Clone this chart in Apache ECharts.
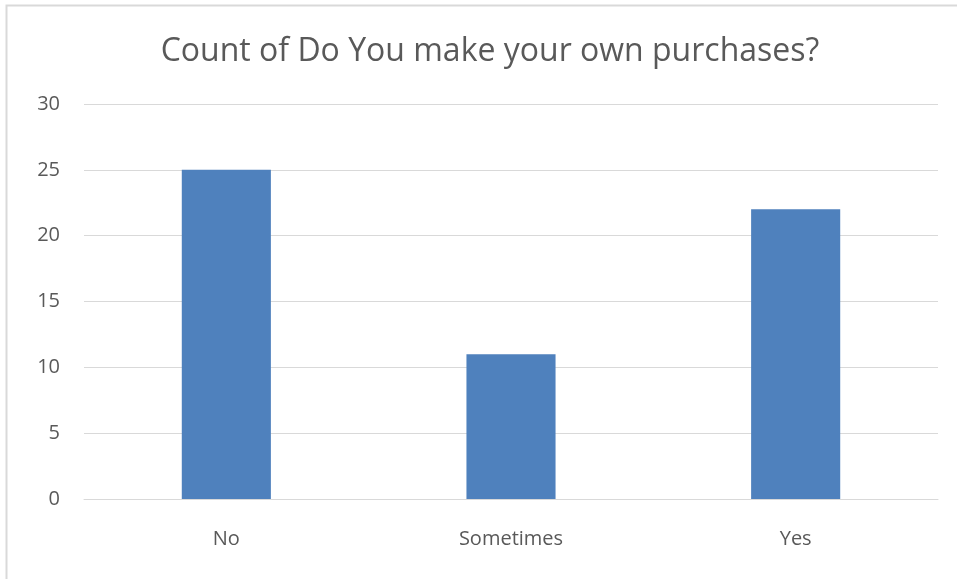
<!DOCTYPE html>
<html>
<head>
<meta charset="utf-8">
<script src="https://cdn.jsdelivr.net/npm/echarts@6/dist/echarts.min.js"></script>
<style>
  html, body { margin: 0; padding: 0; background: #ffffff; }
  #chart { width: 957px; height: 579px; }
</style>
</head>
<body>
<div id="chart"></div>
<script>
// Responses to "Do You make your own purchases?"
const categories = ['No', 'Sometimes', 'Yes'];
const counts = [25, 11, 22];
const yTicks = { min: 0, max: 30, interval: 5 };
const chartTitle = 'Count of Do You make your own purchases?';

const textColor = '#595959';
const fontFamily = '"Open Sans", "Liberation Sans", sans-serif';

const chart = echarts.init(document.getElementById('chart'));
chart.setOption({
  animation: false,
  backgroundColor: '#ffffff',
  title: {
    text: chartTitle,
    left: 485,
    textAlign: 'center',
    top: 31,
    textStyle: { color: textColor, fontSize: 32, fontWeight: 'normal', fontFamily: fontFamily }
  },
  graphic: [{
    type: 'rect',
    shape: { x: 6.5, y: 5.5, width: 1000, height: 1000 },
    style: { fill: 'none', stroke: '#d9d9d9', lineWidth: 2 },
    silent: true
  }],
  grid: { left: 84, right: 19, top: 104, bottom: 80, containLabel: false },
  xAxis: {
    type: 'category',
    data: categories,
    axisLine: { show: true, lineStyle: { color: '#d9d9d9', width: 1 } },
    axisTick: { show: false },
    axisLabel: { color: textColor, fontSize: 20, fontFamily: fontFamily, margin: 30 }
  },
  yAxis: {
    type: 'value',
    min: yTicks.min,
    max: yTicks.max,
    interval: yTicks.interval,
    axisLine: { show: false },
    axisTick: { show: false },
    splitLine: { lineStyle: { color: '#d9d9d9', width: 1 } },
    axisLabel: { color: textColor, fontSize: 20, fontFamily: fontFamily, margin: 24 }
  },
  series: [{
    type: 'bar',
    data: counts,
    barWidth: '31.3%',
    itemStyle: { color: '#4f81bd' }
  }]
});
</script>
</body>
</html>
